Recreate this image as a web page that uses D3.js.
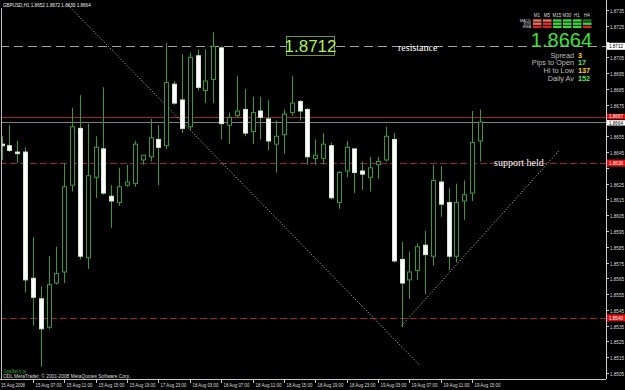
<!DOCTYPE html>
<html><head><meta charset="utf-8">
<script src="https://cdn.jsdelivr.net/npm/d3@7"></script>
<style>html,body{margin:0;padding:0;background:#000;}svg{display:block;}</style>
</head><body>
<script>
// ---- data ----
const opens  = [1.8650,1.8649,1.8645,1.8645,1.8565,1.8552,1.8534,1.8562,1.8569,1.8624,1.8660,1.8578,1.8629,1.8647,1.8617,1.8613,1.8624,1.8625,1.8640,1.8642,1.8653,1.8649,1.8688,1.8678,1.8661,1.8706,1.8684,1.8691,1.8711,1.8662,1.8668,1.8672,1.8658,1.8671,1.8666,1.8650,1.8656,1.8670,1.8677,1.8672,1.8641,1.8641,1.8649,1.8613,1.8633,1.8647,1.8633,1.8629,1.8637,1.8640,1.8653,1.8577,1.8564,1.8570,1.8586,1.8579,1.8626,1.8613,1.8579,1.8614,1.8619,1.8652];
const highs  = [1.8655,1.8662,1.8652,1.8648,1.8591,1.8560,1.8579,1.8585,1.8638,1.8673,1.8681,1.8663,1.8655,1.8686,1.8624,1.8635,1.8637,1.8652,1.8643,1.8666,1.8662,1.8714,1.8690,1.8707,1.8708,1.8710,1.8710,1.8721,1.8712,1.8670,1.8693,1.8685,1.8680,1.8680,1.8678,1.8665,1.8672,1.8693,1.8678,1.8673,1.8653,1.8657,1.8651,1.8633,1.8652,1.8647,1.8639,1.8642,1.8642,1.8661,1.8657,1.8588,1.8582,1.8587,1.8595,1.8637,1.8636,1.8622,1.8625,1.8627,1.8671,1.8672];
const lows   = [1.8640,1.8645,1.8638,1.8556,1.8535,1.8509,1.8533,1.8561,1.8562,1.8620,1.8577,1.8571,1.8616,1.8618,1.8597,1.8611,1.8623,1.8623,1.8637,1.8639,1.8624,1.8647,1.8675,1.8657,1.8659,1.8684,1.8676,1.8676,1.8653,1.8650,1.8667,1.8655,1.8650,1.8653,1.8646,1.8632,1.8644,1.8668,1.8665,1.8637,1.8637,1.8637,1.8615,1.8609,1.8629,1.8619,1.8621,1.8620,1.8628,1.8639,1.8575,1.8534,1.8552,1.8564,1.8555,1.8573,1.8604,1.8570,1.8575,1.8602,1.8614,1.8639];
const closes = [1.8649,1.8646,1.8644,1.8564,1.8553,1.8533,1.8561,1.8568,1.8623,1.8661,1.8579,1.8630,1.8648,1.8619,1.8614,1.8623,1.8626,1.8650,1.8643,1.8654,1.8648,1.8689,1.8676,1.8660,1.8705,1.8686,1.8690,1.8712,1.8663,1.8667,1.8671,1.8657,1.8670,1.8667,1.8652,1.8655,1.8669,1.8676,1.8671,1.8642,1.8643,1.8650,1.8616,1.8632,1.8648,1.8632,1.8631,1.8635,1.8639,1.8655,1.8576,1.8562,1.8569,1.8585,1.8580,1.8627,1.8612,1.8579,1.8613,1.8618,1.8651,1.8664];
const timeLabelBars = [0,4,8,12,16,20,24,28,32,36,40,44,48,52,56,60];
const timeLabels = ["15 Aug 2008","15 Aug 07:00","15 Aug 11:00","15 Aug 15:00","15 Aug 19:00","17 Aug 23:00","18 Aug 03:00","18 Aug 07:00","18 Aug 11:00","18 Aug 15:00","18 Aug 19:00","18 Aug 23:00","19 Aug 03:00","19 Aug 07:00","19 Aug 11:00","19 Aug 15:00"];
const priceTicks = d3.range(0, 24).map(i => +(1.8505 + i*0.001).toFixed(4));
const resistanceLevel = 1.8712;
const dayHighLevel = 1.8667;
const bidLevel = 1.8664;
const supportLevel = 1.8638;
const lowLevel = 1.8540;
const downTrend = [[8.5, 1.8738],[53.3, 1.8510]];
const upTrend = [[51, 1.8535],[71.1, 1.8646]];
const tfLabels = ["M1","M5","M15","M30","H1","H4"];
const indLabels = ["MACD","STR","EMA"];
const signalColors = [
  ["#e8705f","#e8705f","#3fd33f","#3fd33f","#3fd33f","#1f7a1f"],
  ["#e8705f","#d83030","#3fd33f","#3fd33f","#3fd33f","#3fd33f"],
  ["#d82020","#d82020","#3fd33f","#3fd33f","#3fd33f","#d82020"]
];
const infoLabels = ["Spread","Pips to Open","Hi to Low","Daily Av"];
const infoValues = ["3","17","137","152"];
const infoColors = ["#ffd42a","#5ee85e","#ffd42a","#5ee85e"];

// ---- drawing ----
const W = 625, H = 390;
const FONT = "Liberation Sans, Arial";
const svg = d3.select("body").append("svg").attr("width", W).attr("height", H).style("background","#000");
const x = d3.scaleLinear().domain([0, 61]).range([1.5, 480]);
const y = d3.scaleLinear().domain([1.8505, 1.8735]).range([373, 10]);
const axisX = 606, axisY = 379;
const green = "#3a9a3a";

// text squeezed horizontally to a target width (bitmap-like MT4 font)
function fitText(parent, tx, ty, str, fs, targetW, fill) {
  const g = parent.append("g");
  const t = g.append("text").attr("x",0).attr("y",0).text(str).attr("fill",fill)
    .attr("font-family",FONT).attr("font-size",fs);
  const len = t.node().getComputedTextLength() || targetW;
  g.attr("transform", `translate(${tx},${ty}) scale(${(targetW/len).toFixed(4)},1)`);
  return g;
}

// frame
svg.append("line").attr("x1",1.5).attr("x2",1.5).attr("y1",8).attr("y2",axisY).attr("stroke","#bbb");
svg.append("line").attr("x1",axisX+0.5).attr("x2",axisX+0.5).attr("y1",0).attr("y2",axisY).attr("stroke","#ccc");
svg.append("line").attr("x1",0).attr("x2",axisX).attr("y1",axisY+0.5).attr("y2",axisY+0.5).attr("stroke","#ccc");

svg.append("defs").append("clipPath").attr("id","c").append("rect").attr("x",2).attr("y",0).attr("width",axisX-2).attr("height",axisY);
const plot = svg.append("g").attr("clip-path","url(#c)");

// horizontal levels
const hl = (v, color, dash) => plot.append("line").attr("x1",0).attr("x2",axisX)
  .attr("y1", Math.round(y(v))+0.5).attr("y2", Math.round(y(v))+0.5)
  .attr("stroke", color).attr("stroke-width",1).attr("stroke-dasharray", dash);
hl(resistanceLevel, "#a0a0a0", "9,5");
hl(dayHighLevel, "#a02626", null);
hl(bidLevel, "#808080", null);
hl(supportLevel, "#a02626", "7,3");
hl(lowLevel, "#a02626", "7,3");

// trend lines
[downTrend, upTrend].forEach(t => {
  plot.append("line").attr("x1", x(t[0][0])).attr("y1", y(t[0][1])).attr("x2", x(t[1][0])).attr("y2", y(t[1][1]))
    .attr("stroke","#d0d0d0").attr("stroke-width",1).attr("stroke-dasharray","1,2");
});

// candles
const cg = plot.append("g");
d3.range(opens.length).forEach(i => {
  const cx = Math.round(x(i)) + 0.5;
  cg.append("line").attr("x1",cx).attr("x2",cx).attr("y1",y(highs[i])).attr("y2",y(lows[i])).attr("stroke",green);
  const top = y(Math.max(opens[i],closes[i])), bot = y(Math.min(opens[i],closes[i]));
  const bull = closes[i] >= opens[i];
  cg.append("rect").attr("x",cx-2).attr("width",4).attr("y",top).attr("height",Math.max(1,bot-top))
    .attr("fill", bull ? "#000" : "#fff").attr("stroke", bull ? green : "#cfe8cf").attr("stroke-width",1);
});

// price axis
const boxLevels = [resistanceLevel, dayHighLevel, bidLevel, supportLevel, lowLevel];
const ag = svg.append("g").attr("transform",`translate(${axisX},0)`);
priceTicks.forEach(p => {
  const yy = Math.round(y(p)) + 0.5;
  ag.append("line").attr("x1",0).attr("x2",3).attr("y1",yy).attr("y2",yy).attr("stroke","#ccc");
  const hidden = boxLevels.some(b => Math.abs(y(b) - y(p)) < 6);
  if (!hidden) fitText(ag, 4, yy+2, p.toFixed(4), 6, 14, "#ddd");
});
const box = (v, fill, tc, dy, fs, h) => {
  const yy = y(v) + dy;
  ag.append("rect").attr("x",1).attr("y",yy-h/2).attr("width",18).attr("height",h).attr("fill",fill);
  fitText(ag, 3, yy+fs*0.36, v.toFixed(4), fs, 14, tc);
};
box(resistanceLevel, "#fff", "#000", 0, 6, 7);
box(dayHighLevel, "#e01010", "#fff", -0.8, 4.8, 5.4);
box(bidLevel, "#fff", "#000", 0.8, 4.8, 5.4);
box(supportLevel, "#e01010", "#fff", 0, 6, 7);
box(lowLevel, "#e01010", "#fff", 0, 6, 7);

// time axis
timeLabelBars.forEach((b, k) => {
  const xx = Math.round(x(b)) + 0.5;
  if (k > 0) svg.append("line").attr("x1",xx).attr("x2",xx).attr("y1",axisY).attr("y2",axisY+4).attr("stroke","#ccc");
  fitText(svg, k === 0 ? 1 : xx+2, 386.5, timeLabels[k], 6, k === 0 ? 24 : 26, "#ddd");
});

// header
fitText(svg, 3, 7, "GBPUSD,H1  1.8652 1.8672 1.8639 1.8664", 6, 88, "#eee");

// annotations
const bx = 286, by = 36;
svg.append("rect").attr("x",bx+0.5).attr("y",by+0.5).attr("width",48).attr("height",19).attr("fill","#000").attr("stroke","#6f9a2a");
svg.append("text").attr("x",bx+24.5).attr("y",by+16).attr("text-anchor","middle").text("1.8712")
  .attr("fill","#a8f060").attr("font-family",FONT).attr("font-size",17);
svg.append("text").attr("x",398).attr("y",51).text("resistance").attr("fill","#fff")
  .attr("font-family","Liberation Serif, Times New Roman").attr("font-size",10);
svg.append("text").attr("x",494).attr("y",166).text("support held").attr("fill","#fff")
  .attr("font-family","Liberation Serif, Times New Roman").attr("font-size",10);

// signal panel
const colX = [533, 543, 553, 563, 573, 583];
tfLabels.forEach((t, j) => svg.append("text").attr("x",colX[j]+4).attr("y",17).attr("text-anchor","middle").text(t)
  .attr("fill","#ddd").attr("font-family",FONT).attr("font-size",4.5));
indLabels.forEach((t, r) => {
  svg.append("text").attr("x",531).attr("y",22+r*3.2).attr("text-anchor","end").text(t)
    .attr("fill","#ddd").attr("font-family",FONT).attr("font-size",3.8);
  tfLabels.forEach((_, j) => svg.append("rect").attr("x",colX[j]).attr("y",19.3+r*3.2).attr("width",8.5).attr("height",2.4)
    .attr("fill", signalColors[r][j]));
});
svg.append("text").attr("x",592).attr("y",46.5).attr("text-anchor","end").text("1.8664")
  .attr("fill","#3ee03e").attr("font-family",FONT).attr("font-size",20);
infoLabels.forEach((t, k) => {
  const yy = 57.6 + k*7.7;
  svg.append("text").attr("x",574).attr("y",yy).attr("text-anchor","end").text(t)
    .attr("fill","#bdbdbd").attr("font-family",FONT).attr("font-size",7.3);
  svg.append("text").attr("x",578).attr("y",yy).text(infoValues[k])
    .attr("fill",infoColors[k]).attr("font-family",FONT).attr("font-size",7.3).attr("font-weight","bold");
});

// footer
fitText(svg, 4, 372.5, "Signal Bars by cja", 5, 22, "#3fbf3f");
fitText(svg, 3, 377.5, "ODL MetaTrader, © 2001-2008 MetaQuotes Software Corp.", 5, 128, "#ddd");
</script>
</body></html>
